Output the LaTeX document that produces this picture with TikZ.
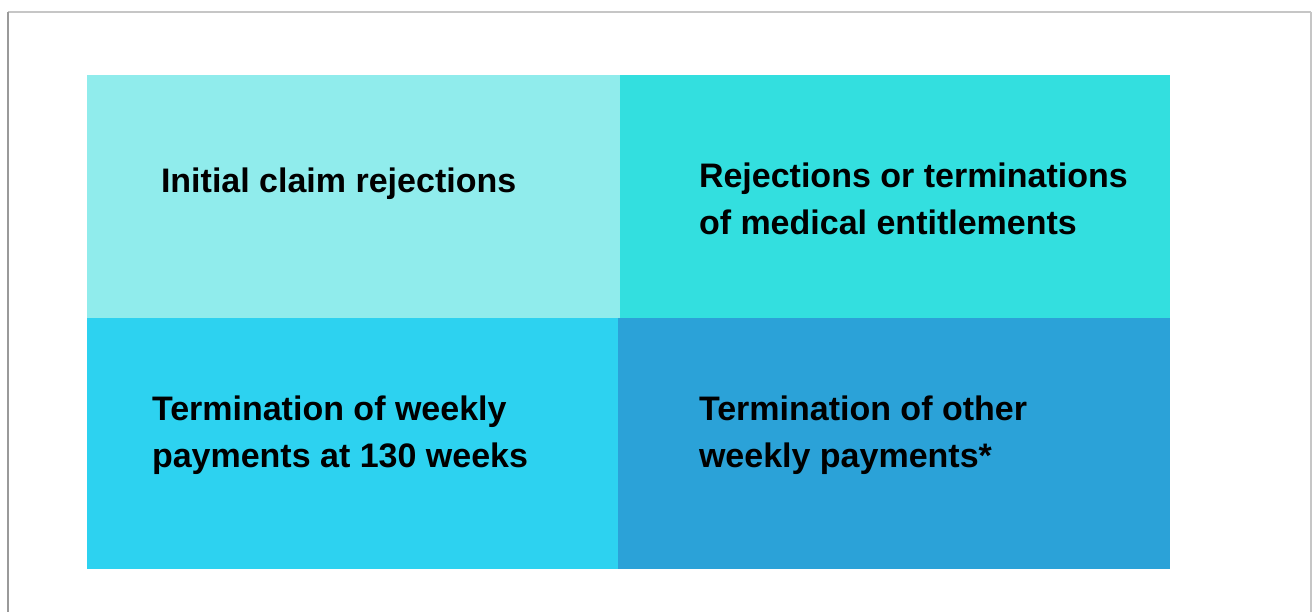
\documentclass[tikz,border=0pt]{standalone}
\usepackage{fontspec}
\setmainfont{Liberation Sans}
\definecolor{cTL}{RGB}{144,236,236}
\definecolor{cTR}{RGB}{51,223,223}
\definecolor{cBL}{RGB}{45,210,240}
\definecolor{cBR}{RGB}{43,162,216}
\definecolor{frameA}{RGB}{198,198,198}
\definecolor{frameB}{RGB}{154,154,154}
\tikzset{
  quad/.style={draw=none, inner sep=0pt, outer sep=0pt, anchor=north west},
  label/.style={inner sep=0pt, outer sep=0pt, anchor=base west, align=left,
    font=\fontsize{34}{47}\selectfont\bfseries, text=black},
}
\begin{document}
\begin{tikzpicture}[x=1pt, y=-1pt]
\useasboundingbox (0,0) rectangle (1312,612);
% frame
\draw[frameA, line width=1.5pt] (8,12) -- (1311,12);
\draw[frameB, line width=1.5pt] (8,12) -- (8,612);
\draw[frameA, line width=1.5pt] (1311,12) -- (1311,612);
% quadrants
\node[quad, fill=cTL, minimum width=533pt, minimum height=243pt] (tl) at (87,75) {};
\node[quad, fill=cTR, minimum width=550pt, minimum height=243pt] (tr) at (620,75) {};
\node[quad, fill=cBL, minimum width=531pt, minimum height=251pt] (bl) at (87,318) {};
\node[quad, fill=cBR, minimum width=552pt, minimum height=251pt] (br) at (618,318) {};
% labels (base anchor = baseline of the last line)
\node[label] (ttl) at (161,193) {Initial claim rejections};
\node[label] (ttr) at (699,235) {Rejections or terminations\\of medical entitlements};
\node[label] (tbl) at (152,467) {Termination of weekly\\payments at 130 weeks};
\node[label] (tbr) at (699,467) {Termination of other\\weekly payments*};
\end{tikzpicture}
\end{document}
